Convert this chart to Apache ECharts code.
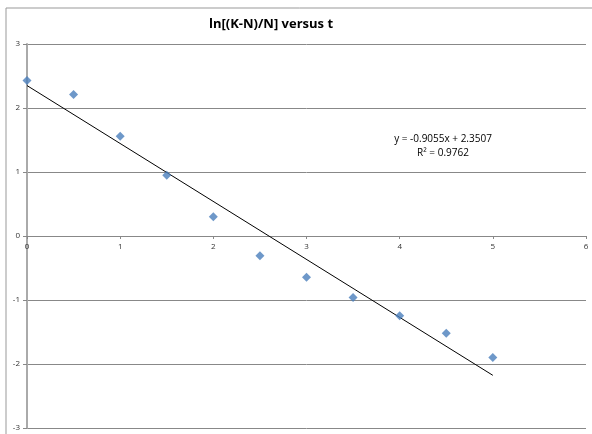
<!DOCTYPE html>
<html>
<head>
<meta charset="utf-8">
<script src="https://cdn.jsdelivr.net/npm/echarts@6/dist/echarts.min.js"></script>
<style>
  html, body { margin: 0; padding: 0; background: #fff; }
  #chart { width: 592px; height: 434px; }
</style>
</head>
<body>
<div id="chart"></div>
<script>
// data
const tValues = [0, 0.5, 1, 1.5, 2, 2.5, 3, 3.5, 4, 4.5, 5];
const lnValues = [2.43, 2.21, 1.56, 0.95, 0.30, -0.31, -0.645, -0.96, -1.245, -1.52, -1.90];

// linear trendline as shown on the chart
const slope = -0.9055;
const intercept = 2.3507;
const trendX = [0, 5];

const points = tValues.map((t, i) => [t, lnValues[i]]);
const trendPoints = trendX.map(x => [x, slope * x + intercept]);

const chart = echarts.init(document.getElementById('chart'));
const font = 'Open Sans, Liberation Sans, sans-serif';

chart.setOption({
    animation: false,
    title: {
        text: 'ln[(K-N)/N] versus t',
        left: 266,
        top: 13,
        textAlign: 'center',
        textStyle: { fontFamily: font, fontSize: 13, fontWeight: 'bold', color: '#000' }
    },
    grid: { left: 27, right: 6, top: 44, bottom: 6 },
    xAxis: {
        type: 'value',
        min: 0, max: 6, interval: 1,
        // axis sits on y = 0 (half the plot height above the bottom)
        offset: -192,
        axisLine: { onZero: false, lineStyle: { color: '#888', width: 1 } },
        axisTick: { show: true, length: 3, lineStyle: { color: '#888' } },
        axisLabel: { fontFamily: font, fontSize: 8, color: '#333', margin: 7 },
        splitLine: { show: false }
    },
    yAxis: {
        type: 'value',
        min: -3, max: 3, interval: 1,
        axisLine: { show: true, onZero: false, lineStyle: { color: '#aaa', width: 2 } },
        axisTick: { show: true, length: 4, lineStyle: { color: '#888' } },
        axisLabel: { fontFamily: font, fontSize: 8, color: '#333', margin: 7 },
        splitLine: { lineStyle: { color: '#888', width: 1 } }
    },
    series: [
        {
            type: 'scatter',
            data: points,
            symbol: 'diamond',
            symbolSize: 9,
            itemStyle: { color: '#4a7ebb' },
            z: 3
        },
        {
            type: 'line',
            data: trendPoints,
            symbol: 'none',
            lineStyle: { color: '#000', width: 1 },
            z: 2
        }
    ],
    graphic: [
        {
            type: 'rect',
            shape: { x: 6, y: 8, width: 600, height: 440 },
            style: { fill: null, stroke: '#999', lineWidth: 1 },
            silent: true
        },
        {
            type: 'text',
            x: 443,
            y: 134,
            style: {
                text: 'y = -0.9055x + 2.3507',
                fontFamily: font,
                fontSize: 10,
                align: 'center',
                fill: '#000'
            }
        },
        {
            type: 'text',
            x: 443,
            y: 148,
            style: {
                text: 'R² = 0.9762',
                fontFamily: font,
                fontSize: 10,
                align: 'center',
                fill: '#000'
            }
        }
    ]
});
</script>
</body>
</html>
